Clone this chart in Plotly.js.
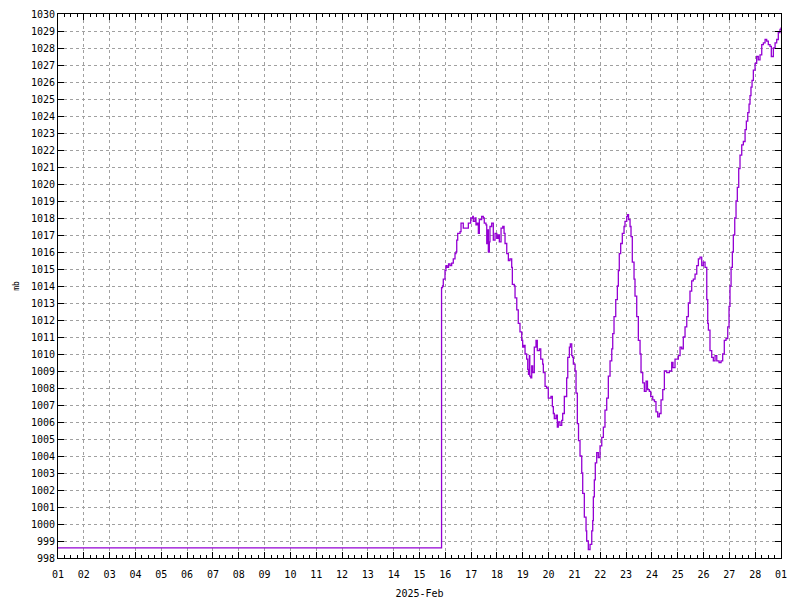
<!DOCTYPE html>
<html>
<head>
<meta charset="utf-8">
<script src="https://cdn.plot.ly/plotly-3.0.1.min.js"></script>
<style>html,body{margin:0;padding:0;background:#fff;}#chart{width:800px;height:600px;}</style>
</head>
<body>
<div id="chart"></div>
<script>
var times = [
"2025-02-01 00:00","2025-02-15 20:00","2025-02-15 20:30","2025-02-15 21:24","2025-02-15 22:06","2025-02-15 23:42",
"2025-02-16 00:36","2025-02-16 01:36","2025-02-16 03:00","2025-02-16 04:24","2025-02-16 05:54","2025-02-16 07:24",
"2025-02-16 09:00","2025-02-16 09:54","2025-02-16 10:36","2025-02-16 11:30","2025-02-16 13:42","2025-02-16 14:36",
"2025-02-16 16:12","2025-02-16 16:42","2025-02-16 20:48","2025-02-16 21:24","2025-02-16 23:36",
"2025-02-17 01:30","2025-02-17 02:00","2025-02-17 03:36","2025-02-17 04:30","2025-02-17 05:30","2025-02-17 06:42",
"2025-02-17 07:36","2025-02-17 09:48","2025-02-17 11:18","2025-02-17 12:12","2025-02-17 13:48","2025-02-17 14:30",
"2025-02-17 15:24","2025-02-17 16:00","2025-02-17 16:54","2025-02-17 17:30","2025-02-17 19:06","2025-02-17 20:36",
"2025-02-17 22:12","2025-02-17 23:48",
"2025-02-18 01:00","2025-02-18 02:12","2025-02-18 03:48","2025-02-18 05:24","2025-02-18 06:36","2025-02-18 07:30",
"2025-02-18 09:06","2025-02-18 10:36","2025-02-18 12:06","2025-02-18 13:42","2025-02-18 14:18","2025-02-18 16:06",
"2025-02-18 16:48","2025-02-18 18:24","2025-02-18 19:48","2025-02-18 21:24","2025-02-18 23:00","2025-02-18 23:54",
"2025-02-19 01:06","2025-02-19 02:06","2025-02-19 03:36","2025-02-19 04:36","2025-02-19 05:18","2025-02-19 06:06",
"2025-02-19 06:30","2025-02-19 07:24","2025-02-19 08:18","2025-02-19 09:12","2025-02-19 10:42","2025-02-19 12:18",
"2025-02-19 13:30","2025-02-19 15:24","2025-02-19 16:42","2025-02-19 18:30","2025-02-19 19:06","2025-02-19 20:42",
"2025-02-19 22:12","2025-02-19 23:42",
"2025-02-20 02:12","2025-02-20 03:30","2025-02-20 04:24","2025-02-20 05:18","2025-02-20 06:54","2025-02-20 08:06",
"2025-02-20 09:00","2025-02-20 10:36","2025-02-20 12:12","2025-02-20 13:06","2025-02-20 14:36","2025-02-20 16:48",
"2025-02-20 17:48","2025-02-20 19:18","2025-02-20 20:12","2025-02-20 21:30","2025-02-20 22:24","2025-02-20 23:00",
"2025-02-21 00:36","2025-02-21 01:30","2025-02-21 02:42","2025-02-21 03:48","2025-02-21 05:12","2025-02-21 06:48",
"2025-02-21 07:42","2025-02-21 09:12","2025-02-21 10:48","2025-02-21 11:24","2025-02-21 12:54","2025-02-21 14:30",
"2025-02-21 16:06","2025-02-21 17:00","2025-02-21 17:36","2025-02-21 18:30","2025-02-21 19:24","2025-02-21 20:42",
"2025-02-21 22:12","2025-02-21 23:48",
"2025-02-22 01:24","2025-02-22 02:54","2025-02-22 04:24","2025-02-22 06:00","2025-02-22 07:30","2025-02-22 09:06",
"2025-02-22 10:42","2025-02-22 11:36","2025-02-22 12:48","2025-02-22 14:24","2025-02-22 15:54","2025-02-22 16:48",
"2025-02-22 17:42","2025-02-22 19:00","2025-02-22 20:30","2025-02-22 22:06","2025-02-22 23:00",
"2025-02-23 00:36","2025-02-23 01:30","2025-02-23 02:18","2025-02-23 03:42","2025-02-23 04:36","2025-02-23 05:48",
"2025-02-23 07:24","2025-02-23 08:18","2025-02-23 09:54","2025-02-23 11:24","2025-02-23 13:00","2025-02-23 13:54",
"2025-02-23 15:30","2025-02-23 17:00","2025-02-23 18:36","2025-02-23 19:54","2025-02-23 21:36","2025-02-23 22:54",
"2025-02-24 00:48","2025-02-24 02:24","2025-02-24 03:48","2025-02-24 05:24","2025-02-24 06:54","2025-02-24 08:30",
"2025-02-24 10:06","2025-02-24 11:36","2025-02-24 13:48","2025-02-24 16:12","2025-02-24 18:24","2025-02-24 19:36",
"2025-02-24 21:30",
"2025-02-25 00:36","2025-02-25 02:12","2025-02-25 03:42","2025-02-25 05:12","2025-02-25 06:48","2025-02-25 08:24",
"2025-02-25 09:54","2025-02-25 11:24","2025-02-25 13:00","2025-02-25 14:30","2025-02-25 16:06","2025-02-25 17:42",
"2025-02-25 19:12","2025-02-25 20:42","2025-02-25 22:18","2025-02-25 23:48",
"2025-02-26 01:24","2025-02-26 03:00","2025-02-26 03:54","2025-02-26 04:30","2025-02-26 06:00","2025-02-26 07:36",
"2025-02-26 09:06","2025-02-26 10:42","2025-02-26 12:18","2025-02-26 14:24","2025-02-26 16:18","2025-02-26 17:48",
"2025-02-26 19:18","2025-02-26 20:54","2025-02-26 22:30","2025-02-26 23:42",
"2025-02-27 00:36","2025-02-27 01:36","2025-02-27 02:48","2025-02-27 03:42","2025-02-27 05:00","2025-02-27 06:12",
"2025-02-27 07:24","2025-02-27 08:42","2025-02-27 09:54","2025-02-27 11:30","2025-02-27 13:00","2025-02-27 14:36",
"2025-02-27 15:48","2025-02-27 17:06","2025-02-27 18:18","2025-02-27 19:12","2025-02-27 20:06","2025-02-27 21:06",
"2025-02-27 22:18","2025-02-27 23:54",
"2025-02-28 01:24","2025-02-28 02:54","2025-02-28 04:30","2025-02-28 06:06","2025-02-28 07:36","2025-02-28 09:12",
"2025-02-28 10:42","2025-02-28 12:12","2025-02-28 13:48","2025-02-28 15:00","2025-02-28 16:54","2025-02-28 18:30",
"2025-02-28 20:00","2025-02-28 21:30","2025-02-28 23:06","2025-03-01 00:00"
];
var pressure = [
998.6,998.6,1013.9,1014.0,1014.4,1014.9,
1015.2,1015.1,1015.3,1015.2,1015.35,1015.6,
1015.9,1016.0,1016.7,1017.1,1017.2,1017.7,
1017.7,1017.4,1017.4,1017.7,1018.0,
1018.1,1017.8,1018.0,1017.6,1017.7,1017.1,
1017.9,1018.1,1018.0,1017.7,1017.6,1016.5,
1017.3,1016.0,1016.6,1017.5,1017.7,1016.7,
1017.1,1016.8,
1017.0,1016.6,1017.4,1017.5,1017.1,1016.5,
1015.9,1015.5,1015.6,1015.1,1014.1,1014.0,
1013.3,1012.6,1011.8,1011.3,1010.8,1010.4,
1010.5,1010.0,1009.7,1009.1,1008.8,1009.9,
1008.7,1008.6,1009.3,1008.9,1010.4,1010.8,
1010.2,1010.3,1009.7,1009.4,1008.9,1008.1,
1008.0,1007.4,
1007.5,1006.9,1006.5,1006.2,1006.4,1005.7,
1006.0,1005.8,1006.1,1006.5,1007.5,1008.6,
1009.8,1010.4,1010.6,1009.9,1009.8,1009.4,
1009.0,1007.7,1005.9,1004.9,1004.0,1003.0,
1001.8,1000.4,999.6,999.0,998.5,998.8,
999.6,1000.2,1001.6,1002.6,1003.6,1004.2,
1003.9,1004.6,
1005.1,1005.7,1006.7,1007.4,1008.7,1009.6,
1010.3,1011.2,1012.2,1013.2,1014.0,1014.9,
1015.9,1016.5,1017.1,1017.5,1017.8,
1018.1,1018.2,1017.9,1017.5,1016.9,1015.4,
1014.4,1013.4,1012.2,1010.8,1010.0,1008.9,
1008.3,1007.8,1008.4,1007.9,1007.8,1007.5,
1007.3,1007.2,1006.6,1006.3,1006.5,1007.3,
1007.9,1009.0,1008.9,1009.0,1009.5,1009.2,
1009.7,
1009.9,1010.4,1010.3,1011.0,1011.6,1012.2,
1013.0,1013.7,1014.3,1014.4,1014.7,1015.2,
1015.6,1015.7,1015.2,1015.4,
1015.1,1013.2,1011.8,1011.4,1010.2,1009.8,
1009.6,1009.9,1009.6,1009.5,1009.6,1010.0,
1010.8,1010.9,1011.6,1012.8,
1014.0,1015.1,1016.0,1017.0,1018.0,1019.0,
1019.8,1020.9,1021.7,1022.3,1022.5,1023.2,
1023.7,1024.2,1024.7,1025.2,1025.7,1026.1,
1026.7,1027.1,
1027.5,1027.3,1027.6,1028.2,1028.3,1028.5,
1028.4,1028.2,1028.1,1027.5,1028.0,1028.3,
1028.5,1028.9,1029.1,1029.2
];
var yTicks = [];
for (var v = 998; v <= 1030; v++) yTicks.push(v);

var font = {family: 'DejaVu Sans Mono, monospace', size: 10, color: '#000'};
var trace = {
  x: times, y: pressure, type: 'scatter', mode: 'lines',
  line: {color: '#9400D3', width: 1.3, shape: 'hv'},
  hoverinfo: 'skip'
};
var layout = {
  width: 800, height: 600,
  margin: {l: 58, r: 19, t: 14, b: 42},
  paper_bgcolor: '#fff', plot_bgcolor: '#fff',
  showlegend: false,
  font: font,
  xaxis: {
    type: 'date',
    range: ['2025-02-01 00:00', '2025-03-01 00:00'],
    dtick: 86400000, tick0: '2025-02-01',
    tickformat: '%d',
    ticks: 'inside', ticklen: 6, tickcolor: '#000', tickwidth: 1,
    minor: {dtick: 21600000, ticks: 'inside', ticklen: 3, tickcolor: '#000', showgrid: false},
    showline: true, linecolor: '#000', linewidth: 1, mirror: 'ticks',
    showgrid: true, gridcolor: '#a0a0a0', gridwidth: 1, griddash: '3px,3px',
    zeroline: false,
    tickfont: font,
    ticklabelstandoff: 7,
    title: {text: '2025-Feb', font: font, standoff: 10}
  },
  yaxis: {
    range: [998, 1030],
    tickvals: yTicks,
    ticktext: yTicks.map(String),
    ticks: 'inside', ticklen: 6, tickcolor: '#000', tickwidth: 1,
    showline: true, linecolor: '#000', linewidth: 1, mirror: 'ticks',
    showgrid: true, gridcolor: '#a0a0a0', gridwidth: 1, griddash: '3px,3px',
    zeroline: false,
    tickfont: font,
    title: {text: 'mb', font: {family: 'DejaVu Sans Mono, monospace', size: 8, color: '#000'}, standoff: 10}
  }
};
Plotly.newPlot('chart', [trace], layout, {displayModeBar: false, staticPlot: true});
</script>
</body>
</html>
